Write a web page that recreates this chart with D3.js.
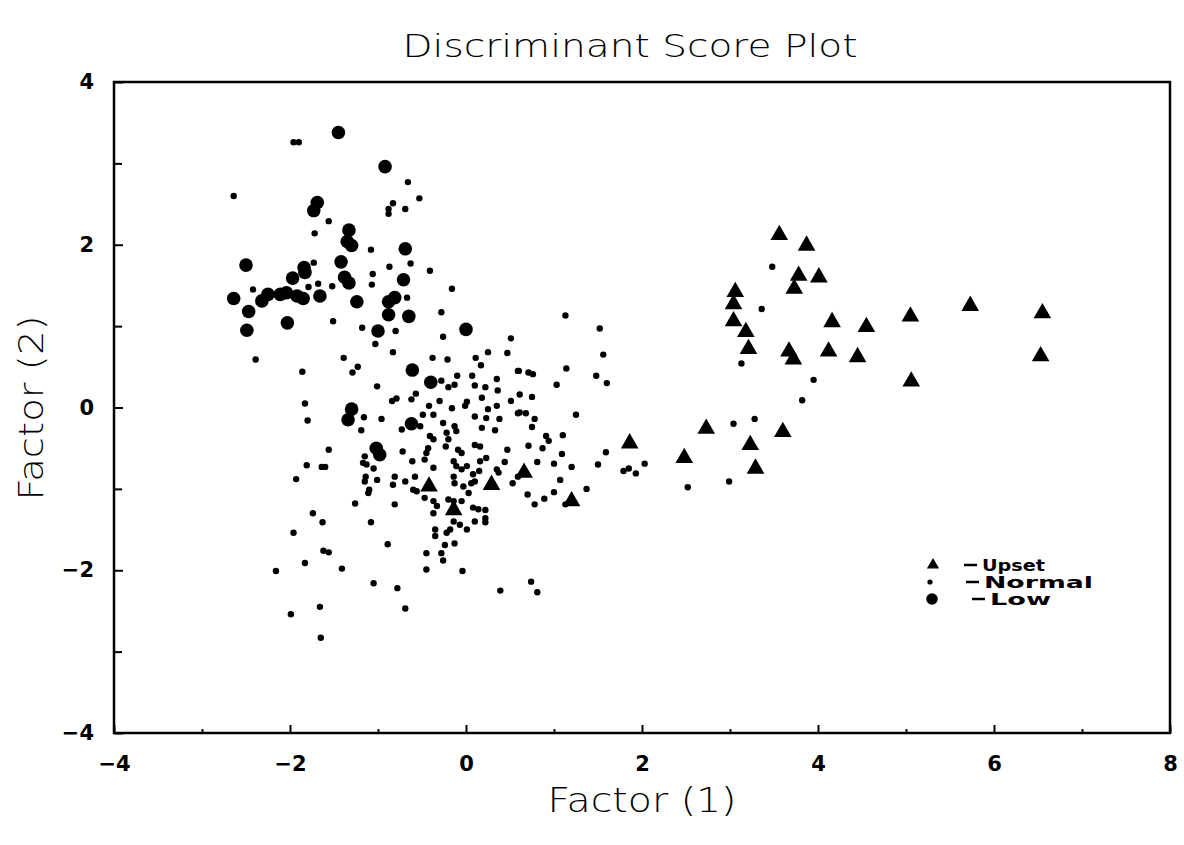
<!DOCTYPE html>
<html>
<head>
<meta charset="utf-8">
<script src="https://cdn.jsdelivr.net/npm/d3@7"></script>
<style>
  body { margin: 0; background: #fff; }
  text { fill: #000; }
</style>
</head>
<body>
<div id="chart-area"></div>
<script>
/*
*    discriminant score plot
*/
var xTicks = [-4, -2, 0, 2, 4, 6, 8];
var xMinor = [-3, -1, 1, 3, 5, 7];
var yTicks = [-4, -2, 0, 2, 4];
var yMinor = [-3, -1, 1, 3];
var legendLabels = ["Upset", "Normal", "Low"];

// Upset group (triangles)
var upset = [
    [3.56,2.12],[3.87,1.99],[3.78,1.62],[4.01,1.60],[3.73,1.46],[3.06,1.42],[3.04,1.27],
    [3.04,1.06],[3.18,0.93],[4.16,1.05],[4.55,0.99],[3.21,0.72],[3.67,0.69],[3.72,0.59],
    [4.12,0.69],[4.45,0.62],[2.73,-0.26],[3.60,-0.30],[3.23,-0.46],[1.86,-0.44],[2.48,-0.62],
    [3.29,-0.75],[5.05,1.12],[5.73,1.25],[6.55,1.16],[5.06,0.32],[6.53,0.63],[0.29,-0.95],
    [0.66,-0.80],[1.20,-1.15],[-0.14,-1.26],[-0.42,-0.97]
];

// Low group (big dots)
var low = [
    [-1.45,3.38],[-0.92,2.96],[-1.69,2.52],[-1.73,2.42],[-1.33,2.18],[-1.35,2.04],[-1.30,1.99],
    [-0.69,1.95],[-2.50,1.75],[-1.42,1.79],[-1.84,1.72],[-1.83,1.66],[-1.97,1.59],[-1.38,1.60],
    [-1.33,1.53],[-0.71,1.57],[-2.64,1.34],[-2.32,1.31],[-2.25,1.39],[-2.11,1.39],[-2.04,1.41],
    [-1.92,1.37],[-1.85,1.34],[-1.66,1.37],[-1.24,1.30],[-0.88,1.30],[-0.81,1.35],[-2.47,1.18],
    [-2.03,1.04],[-0.88,1.14],[-0.65,1.12],[0.00,0.96],[-2.49,0.95],[-1.00,0.94],[-0.61,0.46],
    [-0.40,0.31],[-1.30,-0.02],[-1.34,-0.15],[-0.62,-0.20],[-1.02,-0.50],[-0.98,-0.58]
];

// Normal group (small dots)
var normal = [
    [-1.96,3.26],[-1.90,3.26],[-2.64,2.60],[-0.66,2.77],[-0.53,2.57],[-0.83,2.51],[-0.88,2.44],
    [-0.88,2.38],[-0.69,2.44],[-1.56,2.29],[-1.72,2.14],[-1.08,1.94],[-1.73,1.78],[-0.63,1.77],
    [-0.41,1.68],[-0.87,1.73],[-1.06,1.64],[-1.07,1.51],[-1.68,1.52],[-1.79,1.48],[-1.52,1.49],
    [-2.42,1.45],[-0.16,1.46],[-0.67,1.35],[-1.51,1.06],[-0.28,1.17],[-1.18,0.98],
    [-0.80,0.94],[-0.26,0.87],[0.51,0.85],[-1.03,0.78],[-2.39,0.59],[-1.39,0.61],[-0.83,0.68],
    [-0.38,0.61],[-0.21,0.59],[0.11,0.61],[0.17,0.52],[0.25,0.68],[0.47,0.67],[-1.86,0.44],
    [-1.29,0.43],[-1.23,0.50],[-1.01,0.26],[-0.28,0.33],[-0.20,0.25],[-0.13,0.28],[-0.10,0.39],
    [0.07,0.39],[0.10,0.27],[0.22,0.25],[0.35,0.35],[0.36,0.21],[0.59,0.45],[-0.84,0.08],
    [-0.79,0.11],[-0.62,0.10],[-0.57,0.17],[-0.30,0.08],[-0.42,0.02],[-0.37,-0.09],[-0.16,-0.01],
    [0.01,0.07],[-0.01,0.02],[0.18,0.12],[0.10,-0.11],[0.25,-0.02],[0.23,-0.13],[0.35,0.02],
    [0.38,-0.14],[0.51,0.08],[0.59,-0.07],[-1.16,-0.12],[-0.96,-0.14],[-1.19,-0.28],[-0.73,-0.27],
    [-0.52,-0.23],[-0.41,-0.35],[-0.37,-0.39],[-0.26,-0.19],[-0.22,-0.31],[-0.20,-0.39],
    [-0.13,-0.23],[-0.11,-0.29],[0.18,-0.25],[0.33,-0.28],[0.10,-0.46],[0.16,-0.48],[-0.09,-0.52],
    [-0.05,-0.56],[0.47,-0.52],[0.23,-0.62],[0.44,-0.67],[0.35,-0.76],[0.37,-0.80],[0.53,-0.93],
    [0.59,-0.85],[-0.43,-0.50],[-0.45,-0.56],[-0.47,-0.64],[-0.37,-0.74],[-0.72,-0.54],
    [-0.61,-0.66],[-1.15,-0.60],[-1.17,-0.68],[-1.13,-0.70],[-1.05,-0.75],[-1.14,-0.85],
    [-1.15,-0.91],[-1.01,-0.89],[-0.83,-0.95],[-0.81,-0.85],[-0.69,-0.91],[-0.58,-0.85],
    [-0.60,-1.01],[-0.56,-1.03],[-0.47,-1.11],[-0.37,-1.15],[-0.33,-1.21],[-0.37,-1.30],
    [-1.10,-1.01],[-1.11,-1.05],[-1.26,-1.18],[-0.81,-1.19],[-1.08,-1.41],[-0.20,-1.13],
    [-0.14,-1.15],[-0.05,-1.15],[0.08,-1.23],[0.14,-1.25],[0.22,-1.26],[0.10,-1.40],[0.22,-1.41],
    [-0.14,-1.40],[-0.18,-1.50],[-0.22,-1.54],[-0.07,-1.44],[0.01,-1.50],[-0.35,-1.50],
    [-0.35,-1.58],[-0.24,-1.69],[-0.13,-1.67],[-1.56,-0.52],[-1.81,-0.71],[-1.64,-0.73],
    [-1.60,-0.73],[-1.93,-0.88],[-1.83,0.05],[-1.80,-0.16],[-1.74,-1.30],[-1.63,-1.41],
    [-1.96,-1.54],[-0.89,-1.68],[-1.62,-1.76],[-1.56,-1.78],[-0.45,-1.79],[-0.28,-1.79],
    [-0.26,-1.88],[-1.83,-1.91],[-2.16,-2.01],[-1.41,-1.98],[-0.45,-1.99],[-0.04,-2.01],
    [-1.05,-2.16],[-0.78,-2.22],[0.39,-2.25],[-1.99,-2.54],[-1.66,-2.45],[-0.69,-2.47],
    [-1.65,-2.83],[1.13,1.13],[1.52,0.97],[1.56,0.65],[0.60,0.45],[0.71,0.43],[0.76,0.41],
    [1.14,0.48],[1.48,0.39],[1.60,0.30],[1.03,0.28],[0.61,0.16],[0.75,0.13],[0.61,-0.06],
    [0.68,-0.07],[0.78,-0.14],[0.75,-0.24],[1.25,-0.09],[-0.23,-0.48],[0.91,-0.35],[0.94,-0.41],
    [1.10,-0.34],[0.71,-0.47],[0.87,-0.50],[1.09,-0.57],[1.00,-0.69],[1.20,-0.73],[0.81,-0.67],
    [1.59,-0.55],[1.50,-0.70],[1.79,-0.78],[1.85,-0.75],[1.93,-0.81],[2.03,-0.69],[-0.14,-0.66],
    [-0.11,-0.72],[-0.05,-0.76],[0.01,-0.72],[0.08,-0.82],[0.06,-0.93],[0.10,-0.91],[-0.14,-0.85],
    [-0.13,-0.93],[-0.03,-0.97],[0.03,-1.05],[0.15,-0.78],[0.16,-0.66],[0.70,-1.07],[0.78,-1.19],
    [0.89,-1.12],[1.00,-1.04],[1.07,-0.89],[1.13,-1.19],[1.37,-1.00],[0.74,-2.14],[0.81,-2.27],
    [3.48,1.73],[3.36,1.21],[3.13,0.54],[3.95,0.34],[3.82,0.09],[3.28,-0.14],[3.04,-0.20],
    [2.52,-0.98],[2.99,-0.91],[-0.49,-0.09],[0.22,-1.36]
];

var svg = d3.select("#chart-area").append("svg")
    .attr("width", 1184)
    .attr("height", 845);

var x = d3.scaleLinear()
    .domain([-4, 8])
    .range([114, 1170]);

var y = d3.scaleLinear()
    .domain([-4, 4])
    .range([733, 82]);

var fmt = (d) => { return d < 0 ? "\u2212" + Math.abs(d) : String(d); };

// axes, ticks pointing inward
svg.append("g")
    .attr("transform", "translate(0,733)")
    .call(d3.axisBottom(x).tickValues(xTicks).tickSize(-8).tickPadding(23).tickFormat(fmt));

svg.append("g")
    .attr("transform", "translate(0,733)")
    .call(d3.axisBottom(x).tickValues(xMinor).tickSize(-4).tickFormat(""));

svg.append("g")
    .attr("transform", "translate(114,0)")
    .call(d3.axisLeft(y).tickValues(yTicks).tickSize(-9).tickPadding(20).tickFormat(fmt));

svg.append("g")
    .attr("transform", "translate(114,0)")
    .call(d3.axisLeft(y).tickValues(yMinor).tickSize(-8).tickFormat(""));

svg.selectAll(".domain").remove();
svg.selectAll(".tick line").attr("stroke", "#000").attr("stroke-width", 2);
svg.selectAll(".tick text")
    .style("font-family", "DejaVu Sans, sans-serif")
    .style("font-weight", "bold")
    .style("font-size", "21px");

// frame
svg.append("rect")
    .attr("x", x(-4))
    .attr("y", y(4))
    .attr("width", x(8) - x(-4))
    .attr("height", y(-4) - y(4))
    .attr("fill", "none")
    .attr("stroke", "#000")
    .attr("stroke-width", 2.5);

// points
svg.append("g").selectAll("circle")
    .data(normal)
    .enter()
    .append("circle")
        .attr("cx", (d) => { return x(d[0]); })
        .attr("cy", (d) => { return y(d[1]); })
        .attr("r", 3.2)
        .attr("fill", "#000");

svg.append("g").selectAll("circle")
    .data(low)
    .enter()
    .append("circle")
        .attr("cx", (d) => { return x(d[0]); })
        .attr("cy", (d) => { return y(d[1]); })
        .attr("r", 6.8)
        .attr("fill", "#000");

var tri = d3.symbol().type(d3.symbolTriangle).size(135);

svg.append("g").selectAll("path")
    .data(upset)
    .enter()
    .append("path")
        .attr("d", tri)
        .attr("transform", (d) => { return "translate(" + x(d[0]) + "," + y(d[1]) + ")"; })
        .attr("fill", "#000");

// legend
var legend = svg.append("g");
var legY = [565, 582, 599];
var legTextX = [982, 984, 990];
var legTextLen = [63, 109, 61];

legend.append("path")
    .attr("d", d3.symbol().type(d3.symbolTriangle).size(65))
    .attr("transform", "translate(933," + legY[0] + ")");
legend.append("circle").attr("cx", 930).attr("cy", legY[1]).attr("r", 2.6);
legend.append("circle").attr("cx", 932).attr("cy", legY[2]).attr("r", 5.8);

legend.selectAll("line")
    .data(legendLabels)
    .enter()
    .append("line")
        .attr("x1", (d, i) => { return legTextX[i] - 18; })
        .attr("x2", (d, i) => { return legTextX[i] - 5; })
        .attr("y1", (d, i) => { return legY[i]; })
        .attr("y2", (d, i) => { return legY[i]; })
        .attr("stroke", "#000")
        .attr("stroke-width", 2.5);

legend.selectAll("text")
    .data(legendLabels)
    .enter()
    .append("text")
        .attr("x", (d, i) => { return legTextX[i]; })
        .attr("y", (d, i) => { return legY[i] + 5.5; })
        .attr("font-family", "DejaVu Sans, sans-serif")
        .attr("font-weight", "bold")
        .attr("font-size", 15)
        .attr("textLength", (d, i) => { return legTextLen[i]; })
        .attr("lengthAdjust", "spacingAndGlyphs")
        .text((d) => { return d; });

// titles
svg.append("text")
    .attr("x", 630)
    .attr("y", 57)
    .attr("text-anchor", "middle")
    .attr("font-family", "DejaVu Sans, sans-serif")
    .attr("font-weight", 300)
    .attr("font-size", 32)
    .attr("textLength", 455)
    .attr("lengthAdjust", "spacingAndGlyphs")
    .text("Discriminant Score Plot");

svg.append("text")
    .attr("x", 642)
    .attr("y", 812)
    .attr("text-anchor", "middle")
    .attr("font-family", "DejaVu Sans, sans-serif")
    .attr("font-weight", 300)
    .attr("font-size", 33)
    .attr("textLength", 189)
    .attr("lengthAdjust", "spacingAndGlyphs")
    .text("Factor (1)");

svg.append("text")
    .attr("transform", "translate(43,408) rotate(-90)")
    .attr("text-anchor", "middle")
    .attr("font-family", "DejaVu Sans, sans-serif")
    .attr("font-weight", 300)
    .attr("font-size", 33)
    .attr("textLength", 185)
    .attr("lengthAdjust", "spacingAndGlyphs")
    .text("Factor (2)");
</script>
</body>
</html>
